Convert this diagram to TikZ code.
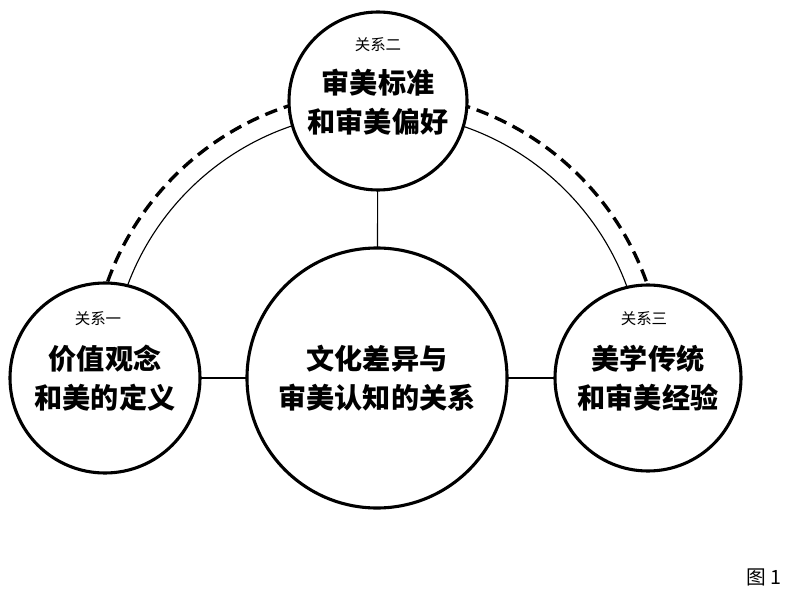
\documentclass[tikz,border=0pt]{standalone}
\usepackage{fontspec}
\newfontfamily\cjk{Noto Sans CJK SC}
\begin{document}
\begin{tikzpicture}
    % 画布
    \useasboundingbox (0,0) rectangle (20,14.825);
    \tikzset{
        circ/.style={draw, circle, line width=2.2pt, fill=white, align=center,
            font=\cjk\bfseries\fontsize{20}{28}\selectfont, inner sep=0pt},
        tag/.style={font=\cjk\fontsize{11}{13}\selectfont}
    }
    % 中心和外围圆的位置
    \coordinate (ctr) at (9.425,5.375);
    \coordinate (top) at (9.45,12.3);
    \coordinate (lft) at (2.625,5.375);
    \coordinate (rgt) at (16.2,5.375);

    % 弧线
    \draw[line width=0.8pt] ([shift={(180:6.65)}]ctr) arc (180:0:6.65);
    \draw[line width=2.4pt, dash pattern=on 9pt off 5pt] ([shift={(180:7.15)}]ctr) arc (180:0:7.15);

    % 连接线
    \draw[line width=0.8pt] (ctr) -- (top);
    \draw[line width=0.8pt] (lft) -- (rgt);

    % 圆
    \node[circ, minimum size=6.5cm] (main) at (ctr) {文化差异与\\审美认知的关系};
    \node[circ, minimum size=4.45cm, text depth=-0.1cm] (n2) at (top) {审美标准\\和审美偏好};
    \node[circ, minimum size=4.75cm] (n1) at (lft) {价值观念\\和美的定义};
    \node[circ, minimum size=4.65cm] (n3) at (rgt) {美学传统\\和审美经验};

    % 小标题
    \node[tag] (t2) at (9.45,13.7) {关系二};
    \node[tag] (t1) at (2.45,6.87) {关系一};
    \node[tag] (t3) at (16.1,6.87) {关系三};
    \node[font=\cjk\fontsize{14}{16}\selectfont] (fig) at (19.1,0.38) {图 1};
\end{tikzpicture}
\end{document}
